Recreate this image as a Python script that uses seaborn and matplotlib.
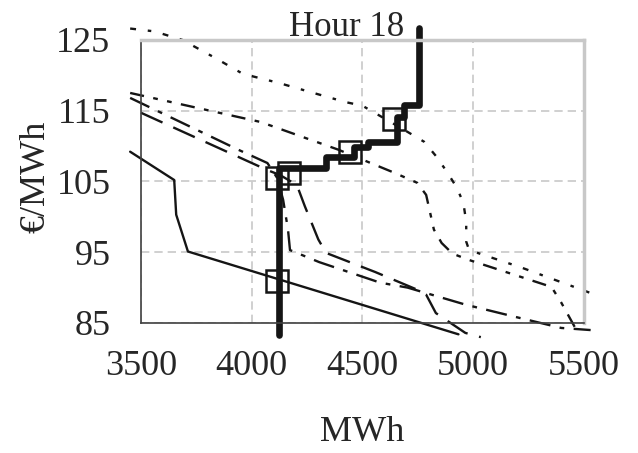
import numpy as np
import matplotlib
matplotlib.use("Agg")
import matplotlib.pyplot as plt
import seaborn as sns

# accepted (step) curve
step_mwh = [4124, 4124, 4336, 4336, 4460, 4460, 4527, 4527, 4655, 4655, 4690, 4690, 4757, 4757]
step_price = [83.3, 106.9, 106.9, 108.5, 108.5, 109.9, 109.9, 110.6, 110.6, 114.1, 114.1, 115.8, 115.8, 126.7]

# thin solid curve
solid_mwh = [3451, 3650, 3659, 3712, 4934]
solid_price = [109.2, 105.2, 100.3, 95.1, 83.4]

# top dotted curve
dot_mwh = [3451, 3560, 3686, 3832, 3960, 4124, 4279, 4425, 4500, 4704, 4779, 4832, 4881,
           4925, 4956, 4969, 4969, 4982, 5221, 5456, 5525]
dot_price = [126.6, 126.2, 125.0, 122.5, 120.2, 118.9, 117.5, 116.2, 115.7, 112.0, 110.6, 108.6, 106.4,
             104.2, 102.0, 99.3, 96.5, 95.3, 92.8, 90.1, 89.3]

# dash-dot-dot curve
dd_mwh = [3451, 4040, 4390, 4646, 4748, 4788, 4823, 4858, 4907, 4982, 5354, 5398, 5474]
dd_price = [117.5, 113.4, 109.5, 106.2, 104.8, 103.1, 98.2, 96.3, 94.8, 93.9, 90.1, 87.9, 83.6]

# long dash curve
ld_mwh = [3500, 4071, 4128, 4204, 4240, 4301, 4336, 4558, 4748, 4788, 4832, 4965, 5035]
ld_price = [114.7, 106.6, 105.9, 104.5, 101.5, 96.8, 94.9, 92.2, 89.7, 89.0, 86.4, 83.6, 83.0]

# dash-dot curve
dsh_mwh = [3451, 3938, 4071, 4115, 4142, 4164, 4173, 4305, 4580, 4704, 4965, 5186, 5398, 5531]
dsh_price = [116.8, 109.5, 107.6, 105.5, 102.4, 98.2, 95.3, 93.6, 90.7, 90.0, 87.6, 85.9, 84.3, 84.0]

# squares
sq_mwh = [4115, 4115, 4168, 4443, 4642]
sq_price = [91.0, 105.5, 106.2, 109.2, 113.8]

x_ticks = [3500, 4000, 4500, 5000, 5500]
y_ticks = [85, 95, 105, 115, 125]

sns.set_style("white")
plt.rcParams['font.family'] = ['Liberation Serif', 'DejaVu Serif']

fig, ax = plt.subplots(figsize=(6.38, 4.53), dpi=100)
fig.subplots_adjust(left=0.221, right=0.915, bottom=0.287, top=0.912)

ink = "#151515"
thin = 1.7

sns.lineplot(x=dot_mwh, y=dot_price, ax=ax, sort=False, estimator=None, color=ink,
             linewidth=thin, linestyle=(0, (2.5, 5, 1.5, 5)), clip_on=False)
sns.lineplot(x=dd_mwh, y=dd_price, ax=ax, sort=False, estimator=None, color=ink,
             linewidth=thin, linestyle=(0, (6, 4, 2, 4, 2, 4)), clip_on=False)
sns.lineplot(x=ld_mwh, y=ld_price, ax=ax, sort=False, estimator=None, color=ink,
             linewidth=thin, linestyle=(0, (10, 5)), clip_on=False)
sns.lineplot(x=dsh_mwh, y=dsh_price, ax=ax, sort=False, estimator=None, color=ink,
             linewidth=thin, linestyle=(0, (9, 4, 2, 4)), clip_on=False)
sns.lineplot(x=solid_mwh, y=solid_price, ax=ax, sort=False, estimator=None, color=ink,
             linewidth=thin, clip_on=False)
sns.lineplot(x=step_mwh, y=step_price, ax=ax, sort=False, estimator=None, color=ink,
             linewidth=4.8, clip_on=False)
ax.plot(sq_mwh, sq_price, linestyle="none", marker="s", markersize=16, markerfacecolor="none",
        markeredgecolor=ink, markeredgewidth=1.8, clip_on=False, zorder=5)

ax.set_xlim(3500, 5500)
ax.set_ylim(85, 125)
ax.set_xticks(x_ticks)
ax.set_yticks(y_ticks)
ax.tick_params(axis="y", direction="inout", length=12, width=1.2, color="#404040",
               labelsize=26, pad=16)
ax.tick_params(axis="x", direction="out", length=8.6, width=1.2, color="#404040",
               labelsize=26, pad=11)

ax.set_axisbelow(True)
ax.grid(True, color="#c8c8c8", linestyle=(0, (5, 3)), linewidth=1.2)

for side in ["left", "bottom"]:
    ax.spines[side].set_color("#404040")
    ax.spines[side].set_linewidth(1.2)
for side in ["top", "right"]:
    ax.spines[side].set_color("#c8c8c8")
    ax.spines[side].set_linewidth(2.5)

ax.set_title("Hour 18", fontsize=25, x=0.465, pad=3)
ax.set_xlabel("MWh", fontsize=26)
ax.set_ylabel("€/MWh", fontsize=26)
ax.xaxis.set_label_coords(0.5, -0.33)
ax.yaxis.set_label_coords(-0.2, 0.515)

fig.savefig("out.png", dpi=100)
